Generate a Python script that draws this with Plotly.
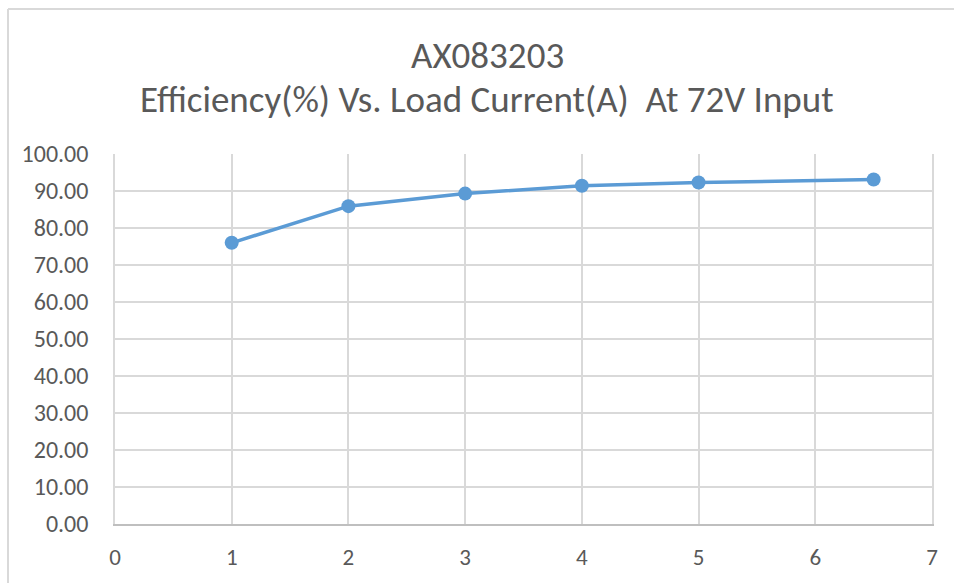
import plotly.graph_objects as go

load_current = [1, 2, 3, 4, 5, 6.5]
efficiency = [76.0, 85.9, 89.3, 91.4, 92.3, 93.1]
y_ticks = [0, 10, 20, 30, 40, 50, 60, 70, 80, 90, 100]
x_ticks = [0, 1, 2, 3, 4, 5, 6, 7]
title_line1 = "AX083203"
title_line2 = "Efficiency(%) Vs. Load Current(A)  At 72V Input"

FONT = "Carlito, Lato, sans-serif"
TXT = "#595959"
GRID = "#d9d9d9"

W, H = 954, 583
ML, MR, MT, MB = 115, 22, 154, 59
PW = W - ML - MR
PH = H - MT - MB

def px_to_paper_x(px):
    return (px - ML) / PW

def px_to_paper_y(py):
    return (H - MB - py) / PH

fig = go.Figure()
fig.add_trace(go.Scatter(
    x=load_current, y=efficiency, mode="lines+markers",
    line=dict(color="#5b9bd5", width=3.5),
    marker=dict(color="#5b9bd5", size=14),
    showlegend=False, cliponaxis=False,
))

fig.update_layout(
    width=W, height=H,
    margin=dict(l=ML, r=MR, t=MT, b=MB),
    paper_bgcolor="white", plot_bgcolor="white",
    font=dict(family=FONT, color=TXT),
    xaxis=dict(
        range=[0, 7], tickvals=x_ticks, showgrid=True, gridcolor=GRID, gridwidth=1.5,
        zeroline=False, showline=True, linecolor="#bfbfbf", linewidth=1.5,
        ticks="", tickfont=dict(size=23, color=TXT, family=FONT),
        ticklabelstandoff=12, fixedrange=True,
    ),
    yaxis=dict(
        range=[0, 100], tickvals=y_ticks, tickformat=".2f", showgrid=True,
        gridcolor=GRID, gridwidth=1.5, zeroline=False, showline=True,
        linecolor=GRID, linewidth=1.5, mirror=True,
        ticks="", tickfont=dict(size=24, color=TXT, family=FONT),
        ticklabelstandoff=20, fixedrange=True,
    ),
    annotations=[
        dict(text=title_line1, xref="paper", yref="paper", x=px_to_paper_x(487),
             y=px_to_paper_y(55.5), xanchor="center", yanchor="middle",
             showarrow=False, font=dict(size=37, color=TXT, family=FONT)),
        dict(text=title_line2, xref="paper", yref="paper", x=px_to_paper_x(487),
             y=px_to_paper_y(99.5), xanchor="center", yanchor="middle",
             showarrow=False, font=dict(size=37, color=TXT, family=FONT)),
    ],
    shapes=[
        dict(type="line", xref="paper", yref="paper",
             x0=px_to_paper_x(8), x1=px_to_paper_x(954),
             y0=px_to_paper_y(9), y1=px_to_paper_y(9),
             line=dict(color=GRID, width=2)),
        dict(type="line", xref="paper", yref="paper",
             x0=px_to_paper_x(8), x1=px_to_paper_x(8),
             y0=px_to_paper_y(9), y1=px_to_paper_y(583),
             line=dict(color=GRID, width=2)),
    ],
)

fig.write_html("out.html", config={"displayModeBar": False},
               post_script="document.body.style.margin='0';document.body.style.overflow='hidden';")
